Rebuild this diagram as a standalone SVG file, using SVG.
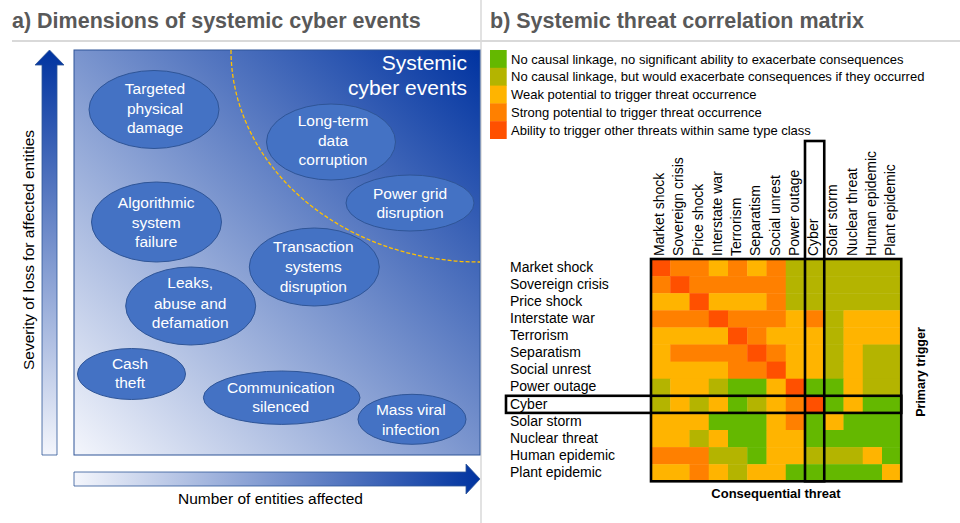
<svg xmlns="http://www.w3.org/2000/svg" width="960" height="523" viewBox="0 0 960 523">
<style>
text{font-family:"Liberation Sans",Arial,sans-serif}
.title{font-size:21.5px;font-weight:bold;fill:#595959}
.ev{fill:#4472c4;stroke:#2f5597;stroke-width:1}
.evt{font-size:15.5px;fill:#ffffff;text-anchor:middle}
.ax{font-size:15.5px;fill:#000000}
.lg{font-size:13px;fill:#000000}
.rl{font-size:14px;fill:#000000}
.G{fill:#64b800}.O{fill:#b4b400}.Y{fill:#ffb400}.R{fill:#ff8000}.D{fill:#ff5000}
.frame{fill:none;stroke:#000000;stroke-width:2.6}
</style>
<defs>
<linearGradient id="gBox" x1="0" y1="1" x2="1" y2="0">
<stop offset="0" stop-color="#f4f6fc"/>
<stop offset="1" stop-color="#0033a0"/>
</linearGradient>
<linearGradient id="gV" gradientUnits="userSpaceOnUse" x1="0" y1="455" x2="0" y2="50">
<stop offset="0" stop-color="#f4f6fc"/>
<stop offset="1" stop-color="#0033a0"/>
</linearGradient>
<linearGradient id="gH" gradientUnits="userSpaceOnUse" x1="74" y1="0" x2="480" y2="0">
<stop offset="0" stop-color="#f4f6fc"/>
<stop offset="1" stop-color="#0033a0"/>
</linearGradient>
</defs>
<rect width="960" height="523" fill="#ffffff"/>
<g id="frame-lines">
<line x1="12" y1="41" x2="960" y2="41" stroke="#d9d9d9" stroke-width="2"/>
<line x1="481" y1="0" x2="481" y2="523" stroke="#d9d9d9" stroke-width="1.5"/>
</g>
<text class="title" x="12" y="27.5">a) Dimensions of systemic cyber events</text>
<text class="title" x="490" y="27.5">b) Systemic threat correlation matrix</text>

<g id="panel-a">
<rect x="74" y="50" width="406" height="405" fill="url(#gBox)" stroke="#2f5597" stroke-width="1"/>
<path d="M231,50 A249,212 0 0 0 480,262" fill="none" stroke="#ffc000" stroke-width="1.3" stroke-dasharray="4 2"/>
<text x="467" y="70" font-size="21" fill="#ffffff" text-anchor="end">Systemic</text>
<text x="467" y="95" font-size="21" fill="#ffffff" text-anchor="end">cyber events</text>
<path id="arrow-severity" d="M42,455 L42,65 L35,65 L49.5,50 L64,65 L57,65 L57,455 Z" fill="url(#gV)" stroke="#2f5597" stroke-width="0.8"/>
<path id="arrow-entities" d="M74,472 L466,472 L466,464 L480,479 L466,494 L466,486 L74,486 Z" fill="url(#gH)" stroke="#2f5597" stroke-width="0.8"/>
<text class="ax" transform="translate(33.5,250) rotate(-90)" text-anchor="middle">Severity of loss for affected entities</text>
<text class="ax" x="270.5" y="503.5" text-anchor="middle">Number of entities affected</text>
</g>

<g id="ev-targeted"><ellipse class="ev" cx="154" cy="109.5" rx="65" ry="39"/>
<text class="evt" x="155" y="94.3">Targeted</text><text class="evt" x="155" y="114.3">physical</text><text class="evt" x="155" y="133">damage</text></g>
<g id="ev-longterm"><ellipse class="ev" cx="331" cy="142" rx="64.5" ry="38"/>
<text class="evt" x="333" y="126">Long-term</text><text class="evt" x="333" y="145.7">data</text><text class="evt" x="333" y="165">corruption</text></g>
<g id="ev-powergrid"><ellipse class="ev" cx="410" cy="203" rx="64" ry="28"/>
<text class="evt" x="410" y="199">Power grid</text><text class="evt" x="410" y="217.7">disruption</text></g>
<g id="ev-algorithmic"><ellipse class="ev" cx="156.5" cy="222" rx="65" ry="40"/>
<text class="evt" x="156.2" y="208.3">Algorithmic</text><text class="evt" x="156.2" y="227.7">system</text><text class="evt" x="156.2" y="247.3">failure</text></g>
<g id="ev-transaction"><ellipse class="ev" cx="314.3" cy="267" rx="65" ry="39"/>
<text class="evt" x="313.3" y="252.3">Transaction</text><text class="evt" x="313.3" y="272.3">systems</text><text class="evt" x="313.3" y="291.7">disruption</text></g>
<g id="ev-leaks"><ellipse class="ev" cx="190.7" cy="306" rx="65" ry="39"/>
<text class="evt" x="190.2" y="288.3">Leaks,</text><text class="evt" x="190.2" y="309">abuse and</text><text class="evt" x="190.2" y="327.7">defamation</text></g>
<g id="ev-cash"><ellipse class="ev" cx="131.5" cy="374" rx="54" ry="25.5"/>
<text class="evt" x="130" y="369">Cash</text><text class="evt" x="130" y="387.7">theft</text></g>
<g id="ev-communication"><ellipse class="ev" cx="281.7" cy="397.7" rx="78.3" ry="26.7"/>
<text class="evt" x="280.8" y="393.3">Communication</text><text class="evt" x="280.8" y="411.7">silenced</text></g>
<g id="ev-massviral"><ellipse class="ev" cx="412" cy="419.3" rx="54" ry="25"/>
<text class="evt" x="410.8" y="415">Mass viral</text><text class="evt" x="410.8" y="435">infection</text></g>

<g id="legend">
<rect class="G" x="490" y="50" width="16.7" height="18.2"/>
<rect class="O" x="490" y="67.8" width="16.7" height="18.2"/>
<rect class="Y" x="490" y="85.6" width="16.7" height="18.2"/>
<rect class="R" x="490" y="103.4" width="16.7" height="18.2"/>
<rect class="D" x="490" y="121.2" width="16.7" height="17.8"/>
<text class="lg" x="511" y="63.5">No causal linkage, no significant ability to exacerbate consequences</text>
<text class="lg" x="511" y="81.3">No causal linkage, but would exacerbate consequences if they occurred</text>
<text class="lg" x="511" y="99.1">Weak potential to trigger threat occurrence</text>
<text class="lg" x="511" y="116.9">Strong potential to trigger threat occurrence</text>
<text class="lg" x="511" y="134.7">Ability to trigger other threats within same type class</text>
</g>

<g id="matrix-cells">
<g transform="translate(0,259)">
<rect class="D" x="651" width="19.65" height="17.5"/><rect class="R" x="670.25" width="38.9" height="17.5"/><rect class="Y" x="708.75" width="19.65" height="17.5"/><rect class="R" x="728" width="19.65" height="17.5"/><rect class="Y" x="747.25" width="19.65" height="17.5"/><rect class="R" x="766.5" width="19.65" height="17.5"/><rect class="O" x="785.75" width="115.5" height="17.5"/>
</g>
<g transform="translate(0,276.1)">
<rect class="R" x="651" width="19.65" height="17.5"/><rect class="D" x="670.25" width="19.65" height="17.5"/><rect class="R" x="689.5" width="96.65" height="17.5"/><rect class="O" x="785.75" width="115.5" height="17.5"/>
</g>
<g transform="translate(0,293.2)">
<rect class="Y" x="651" width="38.9" height="17.5"/><rect class="D" x="689.5" width="19.65" height="17.5"/><rect class="Y" x="708.75" width="58.15" height="17.5"/><rect class="R" x="766.5" width="19.65" height="17.5"/><rect class="O" x="785.75" width="115.5" height="17.5"/>
</g>
<g transform="translate(0,310.3)">
<rect class="R" x="651" width="58.15" height="17.5"/><rect class="D" x="708.75" width="19.65" height="17.5"/><rect class="R" x="728" width="58.15" height="17.5"/><rect class="Y" x="785.75" width="19.65" height="17.5"/><rect class="R" x="805" width="19.65" height="17.5"/><rect class="O" x="824.25" width="19.65" height="17.5"/><rect class="Y" x="843.5" width="57.75" height="17.5"/>
</g>
<g transform="translate(0,327.4)">
<rect class="Y" x="651" width="77.4" height="17.5"/><rect class="D" x="728" width="19.65" height="17.5"/><rect class="R" x="747.25" width="19.65" height="17.5"/><rect class="Y" x="766.5" width="58.15" height="17.5"/><rect class="O" x="824.25" width="19.65" height="17.5"/><rect class="Y" x="843.5" width="57.75" height="17.5"/>
</g>
<g transform="translate(0,344.5)">
<rect class="Y" x="651" width="19.65" height="17.5"/><rect class="R" x="670.25" width="77.4" height="17.5"/><rect class="D" x="747.25" width="19.65" height="17.5"/><rect class="R" x="766.5" width="19.65" height="17.5"/><rect class="Y" x="785.75" width="38.9" height="17.5"/><rect class="O" x="824.25" width="19.65" height="17.5"/><rect class="Y" x="843.5" width="19.65" height="17.5"/><rect class="O" x="862.75" width="38.5" height="17.5"/>
</g>
<g transform="translate(0,361.6)">
<rect class="Y" x="651" width="77.4" height="17.5"/><rect class="R" x="728" width="38.9" height="17.5"/><rect class="D" x="766.5" width="19.65" height="17.5"/><rect class="Y" x="785.75" width="38.9" height="17.5"/><rect class="O" x="824.25" width="19.65" height="17.5"/><rect class="Y" x="843.5" width="19.65" height="17.5"/><rect class="O" x="862.75" width="38.5" height="17.5"/>
</g>
<g transform="translate(0,378.7)">
<rect class="O" x="651" width="19.65" height="17.5"/><rect class="Y" x="670.25" width="38.9" height="17.5"/><rect class="O" x="708.75" width="19.65" height="17.5"/><rect class="G" x="728" width="38.9" height="17.5"/><rect class="Y" x="766.5" width="19.65" height="17.5"/><rect class="D" x="785.75" width="19.65" height="17.5"/><rect class="G" x="805" width="38.9" height="17.5"/><rect class="Y" x="843.5" width="19.65" height="17.5"/><rect class="O" x="862.75" width="38.5" height="17.5"/>
</g>
<g transform="translate(0,395.8)">
<rect class="O" x="651" width="19.65" height="17.5"/><rect class="Y" x="670.25" width="19.65" height="17.5"/><rect class="O" x="689.5" width="19.65" height="17.5"/><rect class="Y" x="708.75" width="19.65" height="17.5"/><rect class="G" x="728" width="19.65" height="17.5"/><rect class="O" x="747.25" width="19.65" height="17.5"/><rect class="Y" x="766.5" width="19.65" height="17.5"/><rect class="R" x="785.75" width="19.65" height="17.5"/><rect class="D" x="805" width="19.65" height="17.5"/><rect class="G" x="824.25" width="19.65" height="17.5"/><rect class="Y" x="843.5" width="19.65" height="17.5"/><rect class="G" x="862.75" width="38.5" height="17.5"/>
</g>
<g transform="translate(0,412.9)">
<rect class="Y" x="651" width="58.15" height="17.5"/><rect class="G" x="708.75" width="58.15" height="17.5"/><rect class="Y" x="766.5" width="19.65" height="17.5"/><rect class="R" x="785.75" width="19.65" height="17.5"/><rect class="G" x="805" width="19.65" height="17.5"/><rect class="Y" x="824.25" width="19.65" height="17.5"/><rect class="G" x="843.5" width="57.75" height="17.5"/>
</g>
<g transform="translate(0,430)">
<rect class="Y" x="651" width="38.9" height="17.5"/><rect class="O" x="689.5" width="19.65" height="17.5"/><rect class="Y" x="708.75" width="19.65" height="17.5"/><rect class="G" x="728" width="38.9" height="17.5"/><rect class="Y" x="766.5" width="38.9" height="17.5"/><rect class="G" x="805" width="96.25" height="17.5"/>
</g>
<g transform="translate(0,447.1)">
<rect class="R" x="651" width="58.15" height="17.5"/><rect class="O" x="708.75" width="38.9" height="17.5"/><rect class="G" x="747.25" width="19.65" height="17.5"/><rect class="Y" x="766.5" width="38.9" height="17.5"/><rect class="O" x="805" width="58.15" height="17.5"/><rect class="Y" x="862.75" width="19.65" height="17.5"/><rect class="G" x="882" width="19.25" height="17.5"/>
</g>
<g transform="translate(0,464.2)">
<rect class="Y" x="651" width="38.9" height="17.1"/><rect class="R" x="689.5" width="19.65" height="17.1"/><rect class="Y" x="708.75" width="19.65" height="17.1"/><rect class="O" x="728" width="19.65" height="17.1"/><rect class="Y" x="747.25" width="38.9" height="17.1"/><rect class="G" x="785.75" width="96.65" height="17.1"/><rect class="Y" x="882" width="19.25" height="17.1"/>
</g>
</g>

<g id="matrix-frames">
<rect class="frame" x="651" y="259" width="250.25" height="222.3"/>
<rect class="frame" x="805" y="141" width="19.25" height="340.3"/>
<rect class="frame" x="506" y="395.8" width="395.25" height="17.1"/>
</g>

<g id="row-labels">
<text class="rl" x="510" y="271.7">Market shock</text>
<text class="rl" x="510" y="288.8">Sovereign crisis</text>
<text class="rl" x="510" y="305.9">Price shock</text>
<text class="rl" x="510" y="323">Interstate war</text>
<text class="rl" x="510" y="340.1">Terrorism</text>
<text class="rl" x="510" y="357.2">Separatism</text>
<text class="rl" x="510" y="374.3">Social unrest</text>
<text class="rl" x="510" y="391.4">Power outage</text>
<text class="rl" x="510" y="408.5">Cyber</text>
<text class="rl" x="510" y="425.6">Solar storm</text>
<text class="rl" x="510" y="442.7">Nuclear threat</text>
<text class="rl" x="510" y="459.8">Human epidemic</text>
<text class="rl" x="510" y="476.9">Plant epidemic</text>
</g>
<g id="column-labels">
<text class="rl" transform="translate(664,256) rotate(-90)">Market shock</text>
<text class="rl" transform="translate(683.25,256) rotate(-90)">Sovereign crisis</text>
<text class="rl" transform="translate(702.5,256) rotate(-90)">Price shock</text>
<text class="rl" transform="translate(721.75,256) rotate(-90)">Interstate war</text>
<text class="rl" transform="translate(741,256) rotate(-90)">Terrorism</text>
<text class="rl" transform="translate(760.25,256) rotate(-90)">Separatism</text>
<text class="rl" transform="translate(779.5,256) rotate(-90)">Social unrest</text>
<text class="rl" transform="translate(798.75,256) rotate(-90)">Power outage</text>
<text class="rl" transform="translate(818,256) rotate(-90)">Cyber</text>
<text class="rl" transform="translate(837.25,256) rotate(-90)">Solar storm</text>
<text class="rl" transform="translate(856.5,256) rotate(-90)">Nuclear threat</text>
<text class="rl" transform="translate(875.75,256) rotate(-90)">Human epidemic</text>
<text class="rl" transform="translate(895,256) rotate(-90)">Plant epidemic</text>
</g>
<text x="776" y="497.5" font-size="13" font-weight="bold" text-anchor="middle">Consequential threat</text>
<text transform="translate(924.5,372) rotate(-90)" font-size="12.5" font-weight="bold" text-anchor="middle">Primary trigger</text>
</svg>
